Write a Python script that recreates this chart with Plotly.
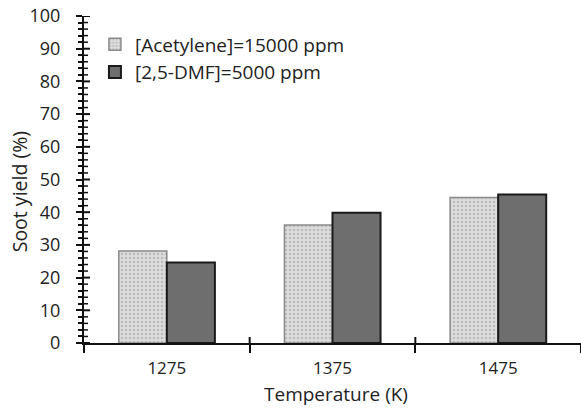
import plotly.graph_objects as go

categories = ["1275", "1375", "1475"]
acetylene = [28.1, 36.1, 44.5]
dmf = [24.6, 39.8, 45.4]
series_names = ["[Acetylene]=15000 ppm", "[2,5-DMF]=5000 ppm"]
x_title = "Temperature (K)"
y_title = "Soot yield (%)"
y_max = 100
y_major = 10
y_minor = 2

FONT = "'Open Sans', Lato, sans-serif"
TXT = "#222"
AX = "#111"

fig = go.Figure()
fig.add_trace(go.Bar(
    x=categories, y=acetylene, name=series_names[0], legendgroup="a",
    marker=dict(color="#d4d4d4", line=dict(color="#8a8a8a", width=1.5),
                pattern=dict(shape=".", fgcolor="#9a9a9a", bgcolor="#dcdcdc", size=4, solidity=0.3)),
))
fig.add_trace(go.Bar(
    x=categories, y=dmf, name=series_names[1], legendgroup="b",
    marker=dict(color="#6e6e6e", line=dict(color="#1a1a1a", width=2)),
))

# inside halves of the axis ticks (plotly draws the outside halves), so ticks cross the axes
shapes = []
for v in range(0, y_max + 1, y_minor):
    major = v % y_major == 0
    shapes.append(dict(type="line", xref="paper", yref="y", xsizemode="pixel", xanchor=0,
                       x0=0, x1=6 if major else 4, y0=v, y1=v,
                       line=dict(color=AX, width=2 if major else 1.5), layer="above"))
for i in range(len(categories) - 1):
    b = i + 0.5
    shapes.append(dict(type="line", xref="x", yref="paper", ysizemode="pixel", yanchor=0,
                       x0=b, x1=b, y0=0, y1=6,
                       line=dict(color=AX, width=2), layer="above"))

fig.update_layout(
    width=581, height=409,
    margin=dict(l=84, r=0, t=16, b=66),
    paper_bgcolor="white", plot_bgcolor="white",
    barmode="group", bargap=0.42, bargroupgap=0,
    font=dict(family=FONT, size=16, color=TXT),
    showlegend=True,
    legend=dict(x=0.022, y=0.971, xanchor="left", yanchor="top",
                font=dict(size=19, color=TXT), bgcolor="rgba(0,0,0,0)",
                itemwidth=30, tracegroupgap=0),
    xaxis=dict(
        range=[-0.5, 2.5], showline=True, linecolor=AX, linewidth=2,
        ticks="outside", ticklen=8, tickwidth=2, tickcolor=AX,
        tickson="boundaries", showgrid=False, zeroline=False,
        tickfont=dict(size=17, color=TXT), ticklabelstandoff=9,
    ),
    yaxis=dict(
        range=[0, y_max], dtick=y_major, showline=True, linecolor=AX, linewidth=2,
        ticks="outside", ticklen=6, tickwidth=2, tickcolor=AX,
        minor=dict(dtick=y_minor, ticks="outside", ticklen=4, tickwidth=1.5, tickcolor=AX),
        showgrid=False, zeroline=False,
        tickfont=dict(size=18, color=TXT), ticklabelstandoff=12,
    ),
    shapes=shapes,
    annotations=[
        dict(text=y_title, textangle=-90, xref="paper", yref="paper",
             x=-0.128, y=0.462, xanchor="center", yanchor="middle",
             showarrow=False, font=dict(size=19.5, color=TXT)),
        dict(text=x_title, xref="paper", yref="paper",
             x=0.508, y=-0.155, xanchor="center", yanchor="middle",
             showarrow=False, font=dict(size=19, color=TXT)),
    ],
)

fig.write_html("out.html", config={"displayModeBar": False},
               post_script="document.body.style.margin='0';")
